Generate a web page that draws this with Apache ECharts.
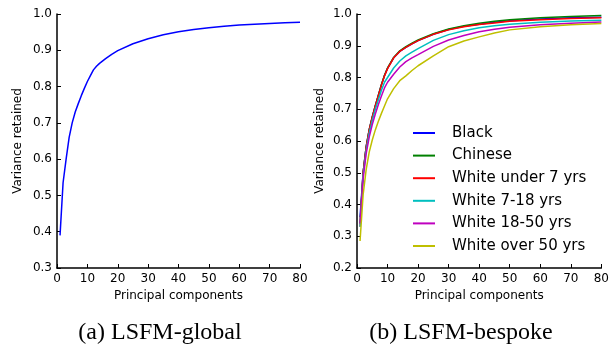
<!DOCTYPE html>
<html><head><meta charset="utf-8">
<script src="https://cdn.jsdelivr.net/npm/echarts@6/dist/echarts.min.js"></script>
<style>html,body{margin:0;padding:0;background:#fff}#c{width:612px;height:346px}</style>
</head><body><div id="c"></div>
<script>
// Left: LSFM-global
const globalX = [1,2,3,4,5,6,7,8,9,10,11,12,13,14,16,18,20,25,30,35,40,45,50,55,60,65,70,75,80];
const globalY = [0.39,0.535,0.60,0.66,0.70,0.73,0.753,0.775,0.795,0.814,0.83,0.846,0.856,0.864,0.877,0.889,0.899,0.918,0.932,0.943,0.951,0.957,0.962,0.966,0.970,0.972,0.974,0.976,0.977];

// Right: LSFM-bespoke
const bespokeX = [1,2,3,4,5,6,7,8,9,10,12,14,16,18,20,25,30,35,40,45,50,60,70,80];
const seriesNames = ['Black','Chinese','White under 7 yrs','White 7-18 yrs','White 18-50 yrs','White over 50 yrs'];
const black   = [0.36,0.50,0.582,0.636,0.676,0.711,0.744,0.777,0.806,0.829,0.862,0.882,0.895,0.906,0.916,0.936,0.951,0.961,0.968,0.974,0.979,0.984,0.988,0.990];
const chinese = [0.34,0.50,0.581,0.636,0.676,0.711,0.744,0.778,0.807,0.830,0.863,0.884,0.897,0.908,0.918,0.938,0.953,0.963,0.971,0.977,0.982,0.988,0.992,0.995];
const whiteU7 = [0.33,0.50,0.58,0.635,0.675,0.71,0.743,0.776,0.805,0.828,0.862,0.882,0.895,0.906,0.916,0.936,0.950,0.960,0.967,0.972,0.977,0.982,0.986,0.988];
const white7  = [0.33,0.49,0.57,0.625,0.665,0.70,0.73,0.76,0.785,0.80,0.83,0.852,0.868,0.88,0.891,0.917,0.935,0.947,0.957,0.963,0.968,0.974,0.978,0.980];
const white18 = [0.34,0.48,0.56,0.612,0.652,0.685,0.715,0.742,0.767,0.785,0.81,0.833,0.85,0.862,0.872,0.898,0.918,0.932,0.944,0.952,0.958,0.966,0.971,0.975];
const white50 = [0.285,0.43,0.51,0.565,0.603,0.635,0.662,0.687,0.71,0.733,0.765,0.79,0.805,0.822,0.837,0.868,0.897,0.915,0.928,0.940,0.950,0.960,0.966,0.970];
const bespokeValues = [black, chinese, whiteU7, white7, white18, white50];
const colors = ['#0000ff','#008000','#ff0000','#00bfbf','#bf00bf','#bfbf00'];

const xTicks = {min:0, max:80, interval:10};
const FONT = 'DejaVu Sans';

function pairs(xs, ys){ return xs.map((x,i)=>[x, ys[i]]); }

function xAxisCfg(gi){
  return {type:'value', gridIndex:gi, min:xTicks.min, max:xTicks.max, interval:xTicks.interval,
    name:'Principal components', nameLocation:'middle', nameGap:22,
    nameTextStyle:{fontFamily:FONT, fontSize:12, color:'#000'},
    axisLine:{lineStyle:{color:'#000', width:1.5}},
    axisTick:{inside:true, length:4, lineStyle:{color:'#000'}},
    axisLabel:{fontFamily:FONT, fontSize:12, color:'#000', margin:5},
    splitLine:{show:false}};
}
function yAxisCfg(gi, min, gap){
  return {type:'value', gridIndex:gi, min:min, max:1.0, interval:0.1,
    name:'Variance retained', nameLocation:'middle', nameGap:gap,
    nameTextStyle:{fontFamily:FONT, fontSize:12, color:'#000'},
    axisLine:{show:true, lineStyle:{color:'#000', width:1.5}},
    axisTick:{show:true, inside:true, length:4, lineStyle:{color:'#000'}},
    axisLabel:{fontFamily:FONT, fontSize:12, color:'#000', margin:5, formatter:v=>v.toFixed(1)},
    splitLine:{show:false}};
}

const series = [{
  type:'line', xAxisIndex:0, yAxisIndex:0, data:pairs(globalX, globalY),
  symbol:'none', lineStyle:{color:'#0000ff', width:1.5}, itemStyle:{color:'#0000ff'}, z:3
}];
seriesNames.forEach((n,i)=>{
  series.push({type:'line', name:n, xAxisIndex:1, yAxisIndex:1, data:pairs(bespokeX, bespokeValues[i]),
    symbol:'none', lineStyle:{color:colors[i], width:1.5}, itemStyle:{color:colors[i]}, z:3+i});
});

const chart = echarts.init(document.getElementById('c'), null, {renderer:'canvas'});
chart.setOption({
  animation:false,
  backgroundColor:'#fff',
  grid:[
    {left:57, top:14, width:243, height:254},
    {left:357, top:14, width:245, height:254}
  ],
  xAxis:[xAxisCfg(0), xAxisCfg(1)],
  yAxis:[yAxisCfg(0, 0.3, 33), yAxisCfg(1, 0.2, 31)],
  legend:{
    orient:'vertical', left:413, top:125, padding:0, icon:'rect', itemWidth:22, itemHeight:2,
    itemGap:6.6, data:seriesNames,
    textStyle:{fontFamily:FONT, fontSize:15, color:'#000', lineHeight:16, padding:[0,0,0,12]}
  },
  graphic:[
    {type:'text', style:{text:'(a) LSFM-global', font:'24px "Liberation Serif"', fill:'#000', x:160, y:333, align:'center', verticalAlign:'middle'}},
    {type:'text', style:{text:'(b) LSFM-bespoke', font:'24px "Liberation Serif"', fill:'#000', x:461, y:333, align:'center', verticalAlign:'middle'}}
  ],
  series:series
});
</script></body></html>
